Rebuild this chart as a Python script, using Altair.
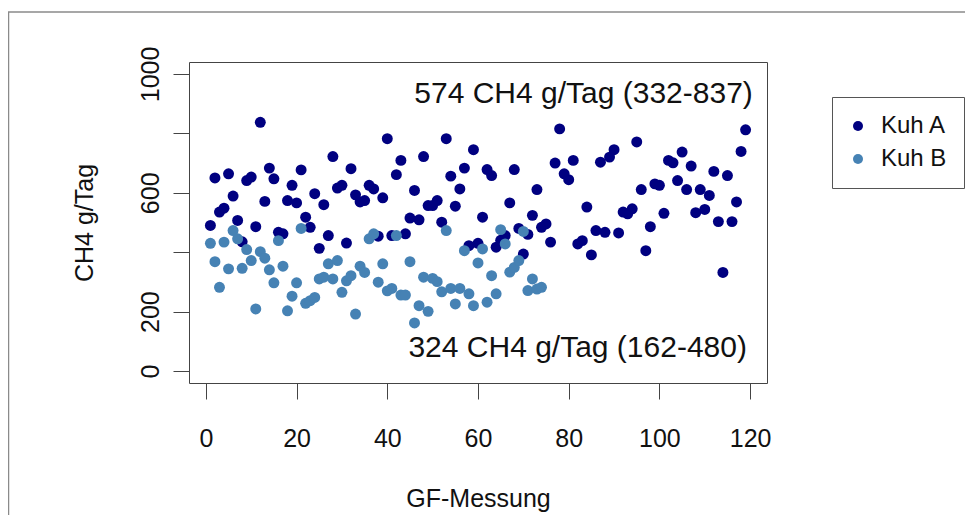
import altair as alt
import pandas as pd

# ---- data ----
series = ["Kuh A", "Kuh B"]
colors = ["#000080", "#4682B4"]

kuh_a = [490, 650, 535, 548, 664, 589, 507, 435, 641, 653,
         486, 837, 571, 683, 647, 467, 462, 574, 625, 566,
         677, 518, 484, 597, 413, 560, 456, 722, 616, 625,
         431, 681, 593, 569, 574, 625, 613, 454, 583, 782,
         456, 661, 709, 462, 515, 608, 509, 722, 557, 557,
         574, 501, 782, 656, 555, 613, 683, 422, 745, 430,
         518, 678, 658, 417, 440, 456, 566, 678, 480, 394,
         460, 524, 611, 484, 495, 434, 700, 815, 664, 644,
         709, 428, 439, 552, 391, 473, 703, 467, 720, 745,
         465, 535, 529, 546, 771, 611, 405, 486, 630, 625,
         531, 709, 701, 641, 737, 611, 690, 533, 611, 544,
         591, 672, 503, 332, 658, 503, 569, 739, 812]

kuh_b = [430, 368, 282, 434, 344, 473, 445, 346, 409, 372,
         209, 402, 380, 341, 297, 439, 353, 203, 252, 297,
         480, 228, 237, 248, 310, 316, 361, 310, 372, 265,
         304, 321, 192, 353, 332, 445, 462, 299, 361, 270,
         278, 456, 256, 256, 368, 162, 220, 316, 201, 312,
         301, 267, 473, 278, 226, 278, 405, 260, 220, 364,
         411, 232, 321, 260, 476, 428, 333, 349, 372, 470,
         271, 310, 276, 282]

x_ticks = [0, 20, 40, 60, 80, 100, 120]
y_ticks = [0, 200, 400, 600, 800, 1000]

annot_text = ["574 CH4 g/Tag (332-837)", "324 CH4 g/Tag (162-480)"]
annot_x = [120.6, 119.3]
annot_y = [901, 46]

df = pd.DataFrame({
    "GF-Messung": list(range(1, len(kuh_a) + 1)) + list(range(1, len(kuh_b) + 1)),
    "CH4": kuh_a + kuh_b,
    "Kuh": [series[0]] * len(kuh_a) + [series[1]] * len(kuh_b),
})
ann_df = pd.DataFrame({"GF-Messung": annot_x, "CH4": annot_y, "t": annot_text})

x_scale = alt.Scale(domain=[-3.72, 123.72], nice=False, zero=False)
y_scale = alt.Scale(domain=[-40, 1040], nice=False, zero=False)

x_axis = alt.Axis(values=x_ticks, title="GF-Messung", grid=False, domain=False,
                  tickSize=16, labelPadding=47, labelBaseline="alphabetic", format="d",
                  labelFontSize=25, titleFontSize=25, titleX=289, titleY=123,
                  titleAlign="center", titleBaseline="alphabetic",
                  labelFlush=False, labelOverlap=False)
y_axis = alt.Axis(values=y_ticks, title="CH4 g/Tag", grid=False, domain=False,
                  tickSize=16, labelAngle=270, labelAlign="center", format="d",
                  labelBaseline="alphabetic", labelPadding=15,
                  labelExpr="datum.value == 400 || datum.value == 800 ? '' : datum.label",
                  labelFontSize=25, titleFontSize=25, titleAngle=270,
                  titleAlign="center", titleBaseline="alphabetic",
                  titleX=-97, titleY=160.5, labelFlush=False, labelOverlap=False)

points = alt.Chart(df).mark_circle(size=120, opacity=1).encode(
    x=alt.X("GF-Messung:Q", scale=x_scale, axis=x_axis),
    y=alt.Y("CH4:Q", scale=y_scale, axis=y_axis),
    color=alt.Color("Kuh:N", scale=alt.Scale(domain=series, range=colors),
                    legend=alt.Legend(title=None, orient="none", legendX=643, legendY=35,
                                      labelFontSize=24, symbolSize=100, symbolType="circle",
                                      padding=17, rowPadding=9, labelOffset=11,
                                      symbolOffset=-3,
                                      strokeColor="#555", fillColor="white",
                                      labelColor="#111", symbolStrokeWidth=0)),
)

annots = alt.Chart(ann_df).mark_text(align="right", baseline="alphabetic", fontSize=30,
                                     color="#111").encode(
    x=alt.X("GF-Messung:Q", scale=x_scale, axis=x_axis),
    y=alt.Y("CH4:Q", scale=y_scale, axis=y_axis),
    text="t:N",
)

frame = alt.Chart(alt.Data(values=[{}])).mark_rect(
    fillOpacity=0, stroke="#8a8a8a", strokeWidth=1.5
).encode(
    x=alt.value(-180.5), x2=alt.value(800), y=alt.value(-50), y2=alt.value(480)
)

chart = alt.layer(points, annots, frame).properties(
    width=578, height=321,
    padding={"left": 181, "top": 54, "right": 198, "bottom": 132},
    autosize=alt.AutoSizeParams(type="none"),
).configure(
    font="Liberation Sans"
).configure_view(
    stroke="#444", strokeWidth=1
).configure_axis(
    labelColor="#111", titleColor="#111", tickColor="#444", tickWidth=1,
    titleFontWeight="normal", labelFont="Liberation Sans", titleFont="Liberation Sans"
).configure_legend(
    labelFont="Liberation Sans"
)

chart.save("out.html", embed_options={"renderer": "svg", "actions": False})
